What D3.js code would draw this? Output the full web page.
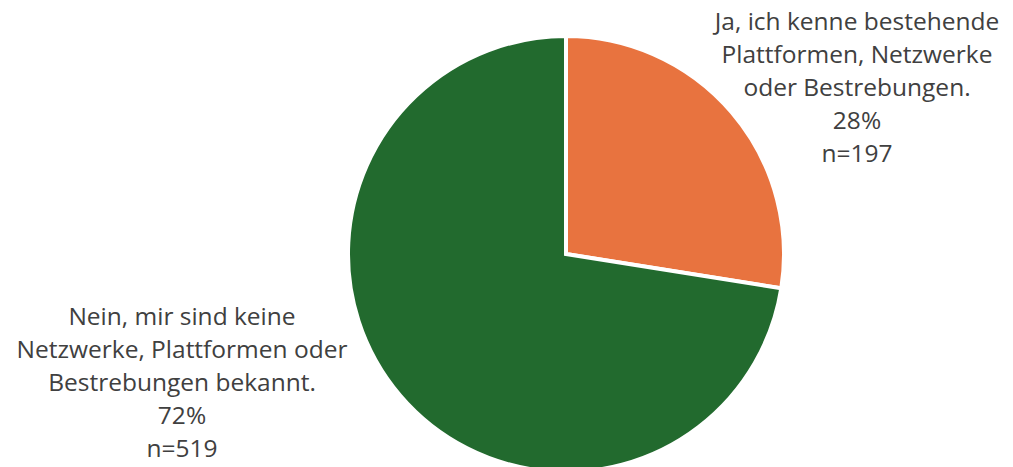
<!DOCTYPE html>
<html>
<head>
<meta charset="utf-8">
<script src="https://cdn.jsdelivr.net/npm/d3@7"></script>
<style>
  html, body { margin: 0; padding: 0; background: #fff; }
  svg { display: block; }
</style>
</head>
<body>
<svg id="chart" width="1013" height="467"></svg>
<script>
// Survey answers and their counts
const categories = [
  "Ja, ich kenne bestehende Plattformen, Netzwerke oder Bestrebungen.",
  "Nein, mir sind keine Netzwerke, Plattformen oder Bestrebungen bekannt."
];
const counts = [197, 519];
const percentLabels = ["28%", "72%"];
// Label lines as wrapped in the chart
const labelLines = [
  ["Ja, ich kenne bestehende", "Plattformen, Netzwerke", "oder Bestrebungen."],
  ["Nein, mir sind keine", "Netzwerke, Plattformen oder", "Bestrebungen bekannt."]
];
const colors = ["#E8733F", "#226A2E"];

const svg = d3.select("#chart");
const cx = 566, cy = 254, r = 218;

const pie = d3.pie().sort(null).value(d => d.count);
const data = categories.map((c, i) => ({ name: c, count: counts[i], i }));
const arcs = pie(data);
const arc = d3.arc().innerRadius(0).outerRadius(r);

const g = svg.append("g").attr("transform", `translate(${cx},${cy})`);
g.selectAll("path")
  .data(arcs)
  .join("path")
  .attr("d", arc)
  .attr("fill", d => colors[d.data.i])
  .attr("stroke", "#fff")
  .attr("stroke-width", 4)
  .attr("stroke-linejoin", "miter");

// Data labels positioned outside the pie
const labelPos = [
  { x: 857, y: 30 },
  { x: 182, y: 325 }
];
const lineH = 33;
arcs.forEach(a => {
  const i = a.data.i;
  const lines = labelLines[i].concat([percentLabels[i], "n=" + counts[i]]);
  const t = svg.append("text")
    .attr("text-anchor", "middle")
    .attr("font-family", "'Open Sans', sans-serif")
    .attr("font-size", 24.5)
    .attr("fill", "#404040");
  lines.forEach((ln, j) => {
    t.append("tspan")
      .attr("x", labelPos[i].x)
      .attr("y", labelPos[i].y + j * lineH)
      .text(ln);
  });
});
</script>
</body>
</html>
